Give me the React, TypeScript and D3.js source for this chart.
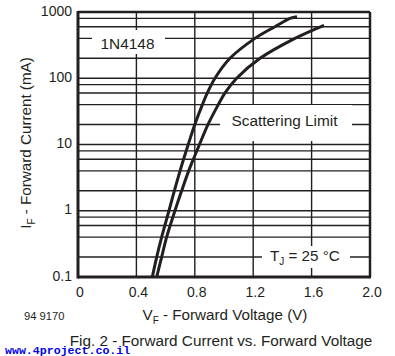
import React from "react";
import * as d3 from "d3";

const curveAVoltage = [0.509, 0.539, 0.573, 0.623, 0.66, 0.699, 0.723, 0.755, 0.8, 0.852, 0.886, 0.938, 1.041, 1.212, 1.349, 1.452, 1.5];
const curveACurrent = [0.1, 0.2, 0.4, 1, 2, 4, 6, 10, 20, 40, 60, 100, 200, 400, 600, 800, 850];
const curveBVoltage = [0.539, 0.573, 0.607, 0.664, 0.71, 0.758, 0.79, 0.832, 0.89, 0.961, 1.007, 1.087, 1.247, 1.486, 1.685];
const curveBCurrent = [0.1, 0.2, 0.4, 1, 2, 4, 6, 10, 20, 40, 60, 100, 200, 400, 630];

const xTicks = [0, 0.4, 0.8, 1.2, 1.6, 2.0];
const xTickLabels = ["0", "0.4", "0.8", "1.2", "1.6", "2.0"];
const yTicks = [0.1, 1, 10, 100, 1000];
const yTickLabels = ["0.1", "1", "10", "100", "1000"];
const yMinorMultipliers = [2, 4, 6, 8];

const INK = "#231f20";
const FONT = "'Liberation Sans', Arial, Helvetica, sans-serif";

export default function App() {
  const left = 78, right = 370, top = 12, bottom = 277;
  const x = d3.scaleLinear().domain([0, 2]).range([left, right]);
  const y = d3.scaleLog().domain([0.1, 1000]).range([bottom, top]);

  const minorY: number[] = [];
  yTicks.slice(0, -1).forEach((d) => yMinorMultipliers.forEach((m) => minorY.push(d * m)));
  const allY = [...yTicks.slice(0, -1), ...minorY];

  const line = d3
    .line<[number, number]>()
    .x((d) => x(d[0]))
    .y((d) => y(d[1]))
    .curve(d3.curveCatmullRom.alpha(0.5));

  const dataA: [number, number][] = curveAVoltage.map((v, i) => [v, curveACurrent[i]]);
  const dataB: [number, number][] = curveBVoltage.map((v, i) => [v, curveBCurrent[i]]);

  return (
    <svg width={395} height={356} style={{ position: "absolute", left: 0, top: 0, background: "#fff" }} fontFamily={FONT}>
      <rect x={0} y={0} width={395} height={356} fill="#fff" />
      {allY.map((d, i) => (
        <line key={"h" + i} x1={left} x2={right} y1={y(d)} y2={y(d)} stroke={INK} strokeWidth={1.4} />
      ))}
      {xTicks.slice(1, -1).map((d, i) => (
        <line key={"v" + i} x1={x(d)} x2={x(d)} y1={top} y2={bottom} stroke={INK} strokeWidth={1.4} />
      ))}
      <rect x={92} y={30} width={73} height={24} fill="#fff" />
      <rect x={220} y={105} width={132} height={36} fill="#fff" />
      <rect x={262} y={246} width={88} height={22} fill="#fff" />
      <line x1={left} x2={right} y1={top} y2={top} stroke={INK} strokeWidth={2.5} />
      <line x1={right} x2={right} y1={top} y2={bottom} stroke={INK} strokeWidth={2.5} />
      <line x1={left} x2={right + 1} y1={bottom} y2={bottom} stroke={INK} strokeWidth={3} />
      <line x1={left} x2={left} y1={top - 1} y2={bottom + 1.5} stroke={INK} strokeWidth={3} />
      <path d={line(dataA) || ""} fill="none" stroke={INK} strokeWidth={3} />
      <path d={line(dataB) || ""} fill="none" stroke={INK} strokeWidth={3} />
      <text x={127.5} y={48.5} fontSize={15.4} fill={INK} textAnchor="middle">1N4148</text>
      <text x={284.5} y={125.5} fontSize={15.4} fill={INK} textAnchor="middle">Scattering Limit</text>
      <text x={270} y={260.5} fontSize={15.2} fill={INK}>
        T<tspan fontSize={10} dy={4}>J</tspan>
        <tspan dy={-4}> = 25 °C</tspan>
      </text>
      {yTicks.map((d, i) => (
        <text key={"yl" + i} x={72} y={y(d) + 3.5} fontSize={14} fill={INK} textAnchor="end">
          {yTickLabels[i]}
        </text>
      ))}
      {xTicks.map((d, i) => (
        <text key={"xl" + i} x={x(d) + 2} y={296.5} fontSize={14} fill={INK} textAnchor="middle">
          {xTickLabels[i]}
        </text>
      ))}
      <text x={225} y={320} fontSize={15.2} fill={INK} textAnchor="middle">
        V<tspan fontSize={10} dy={4}>F</tspan>
        <tspan dy={-4}> - Forward Voltage (V)</tspan>
      </text>
      <text transform="translate(31,143) rotate(-90)" fontSize={15.2} fill={INK} textAnchor="middle">
        I<tspan fontSize={10} dy={4}>F</tspan>
        <tspan dy={-4}> - Forward Current (mA)</tspan>
      </text>
      <text x={24} y={319.5} fontSize={11.2} fill={INK}>94 9170</text>
      <text x={221} y={346} fontSize={15.3} fill={INK} textAnchor="middle">
        Fig. 2 - Forward Current vs. Forward Voltage
      </text>
      <text x={5} y={354} fontSize={11.6} fontWeight="bold" fill="#0000ee" fontFamily="'Liberation Mono', 'Courier New', monospace">
        www.4project.co.il
      </text>
    </svg>
  );
}
